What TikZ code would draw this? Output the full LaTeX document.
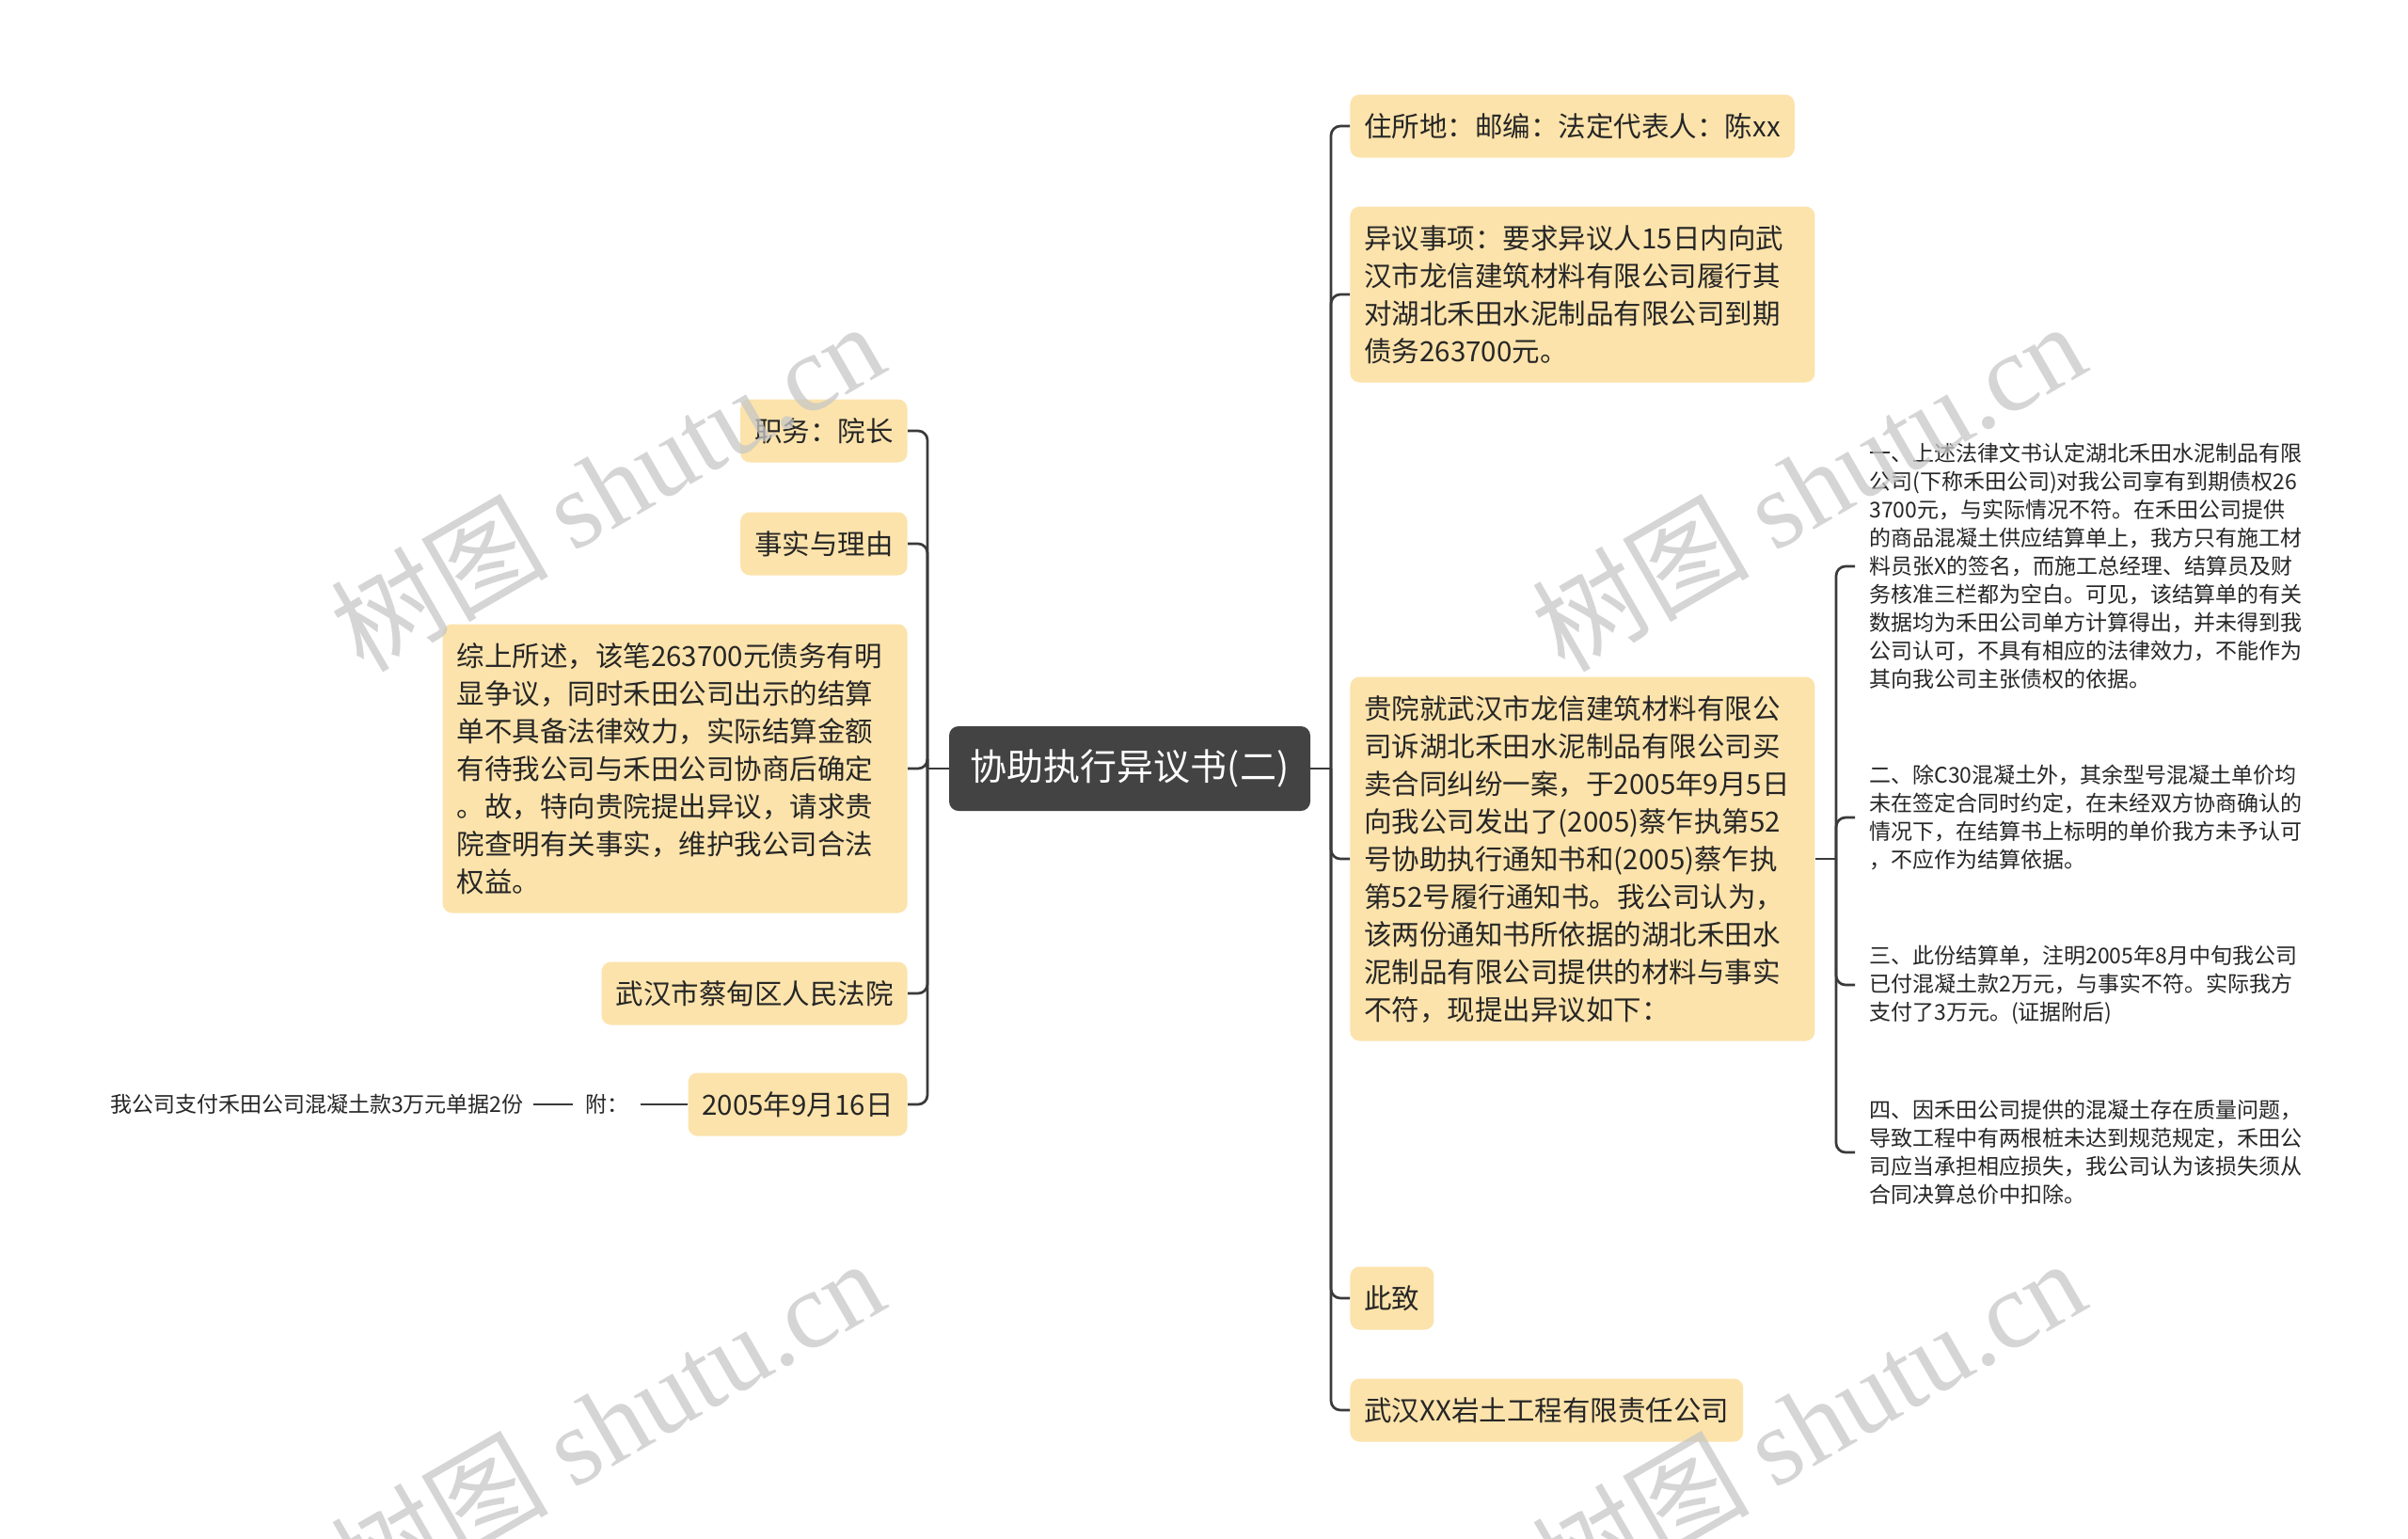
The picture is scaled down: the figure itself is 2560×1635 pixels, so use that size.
\documentclass[tikz,border=0pt]{standalone}
\usepackage{fontspec}
\setmainfont{Noto Sans CJK SC}
\newfontfamily\wmserif{Liberation Serif}
\definecolor{boxc}{HTML}{FCE3AB}
\definecolor{linec}{HTML}{3A3A3A}
\definecolor{centerc}{HTML}{434343}
\definecolor{txt}{HTML}{262626}
\newcommand\bst{\rule[-4.4pt]{0pt}{20pt}}
\tikzset{
  box/.style={fill=boxc, rounded corners=5pt, inner xsep=7.5pt, inner ysep=6.75pt,
    align=left, text=txt, font=\fontsize{14.75}{20}\selectfont},
  widebox/.style={box, text width=232pt},
  itemtext/.style={inner xsep=7.5pt, inner ysep=0pt, align=left, text=txt,
    font=\fontsize{11.5}{15}\selectfont, anchor=west},
  plaintext/.style={inner xsep=5pt, inner ysep=0pt, text=txt,
    font=\fontsize{11.5}{15}\selectfont},
  conn/.style={draw=linec, line width=1.35pt, rounded corners=5pt},
  wm/.style={text=black!22, opacity=0.75, rotate=30, inner sep=0pt,
    font=\fontsize{58}{58}\selectfont}
}
\begin{document}
\begin{tikzpicture}[x=0.5pt,y=-0.5pt]
\path[use as bounding box, fill=white] (0,0) rectangle (2560,1635);

% central
\node[fill=centerc, rounded corners=5pt, minimum width=192pt, minimum height=45pt,
  inner sep=0pt, text=white, font=\fontsize{19.5}{24}\selectfont] (C) at (1201,817) {协助执行异议书(二)};

% left children
\node[box, anchor=east] (L1) at (965,458) {\bst 职务：院长\bst};
\node[box, anchor=east] (L2) at (965,578) {\bst 事实与理由\bst};
\node[widebox, anchor=east] (L3) at (965,817) {\bst 综上所述，该笔263700元债务有明\\显争议，同时禾田公司出示的结算\\单不具备法律效力，实际结算金额\\有待我公司与禾田公司协商后确定\\。故，特向贵院提出异议，请求贵\\院查明有关事实，维护我公司合法\\权益。\bst};
\node[box, anchor=east] (L4) at (965,1056) {\bst 武汉市蔡甸区人民法院\bst};
\node[box, anchor=east] (L5) at (965,1174) {\bst 2005年9月16日\bst};
\node[plaintext, inner xsep=6.5pt] (F) at (645,1174) {附：};
\node[plaintext, anchor=east] (B) at (567,1174) {我公司支付禾田公司混凝土款3万元单据2份};

% right children
\node[box, anchor=west] (R1) at (1435,134) {\bst 住所地：邮编：法定代表人：陈xx\bst};
\node[widebox, anchor=west] (R2) at (1435,313) {\bst 异议事项：要求异议人15日内向武\\汉市龙信建筑材料有限公司履行其\\对湖北禾田水泥制品有限公司到期\\债务263700元。\bst};
\node[widebox, anchor=west] (R3) at (1435,913) {\bst 贵院就武汉市龙信建筑材料有限公\\司诉湖北禾田水泥制品有限公司买\\卖合同纠纷一案，于2005年9月5日\\向我公司发出了(2005)蔡乍执第52\\号协助执行通知书和(2005)蔡乍执\\第52号履行通知书。我公司认为，\\该两份通知书所依据的湖北禾田水\\泥制品有限公司提供的材料与事实\\不符，现提出异议如下：\bst};
\node[box, anchor=west] (R4) at (1435,1380) {\bst 此致\bst};
\node[box, anchor=west] (R5) at (1435,1499) {\bst 武汉XX岩土工程有限责任公司\bst};

% sub items
\node[itemtext] (I1) at (1972,602) {一、上述法律文书认定湖北禾田水泥制品有限\\公司(下称禾田公司)对我公司享有到期债权26\\3700元，与实际情况不符。在禾田公司提供\\的商品混凝土供应结算单上，我方只有施工材\\料员张X的签名，而施工总经理、结算员及财\\务核准三栏都为空白。可见，该结算单的有关\\数据均为禾田公司单方计算得出，并未得到我\\公司认可，不具有相应的法律效力，不能作为\\其向我公司主张债权的依据。};
\node[itemtext] (I2) at (1972,869) {二、除C30混凝土外，其余型号混凝土单价均\\未在签定合同时约定，在未经双方协商确认的\\情况下，在结算书上标明的单价我方未予认可\\，不应作为结算依据。};
\node[itemtext] (I3) at (1972,1047) {三、此份结算单，注明2005年8月中旬我公司\\已付混凝土款2万元，与事实不符。实际我方\\支付了3万元。(证据附后)};
\node[itemtext] (I4) at (1972,1225) {四、因禾田公司提供的混凝土存在质量问题，\\导致工程中有两根桩未达到规范规定，禾田公\\司应当承担相应损失，我公司认为该损失须从\\合同决算总价中扣除。};

% connectors
\coordinate (LT) at (986,817);
\coordinate (RT) at (1415,817);
\coordinate (ST) at (1952,913);
\draw[conn] (C.west) -- (LT);
\draw[conn] (C.east) -- (RT);
\foreach \n in {L1,L2,L3,L4,L5}{
  \draw[conn] (LT) -- (LT |- \n.east) -- (\n.east);
}
\foreach \n in {R1,R2,R3,R4,R5}{
  \draw[conn] (RT) -- (RT |- \n.west) -- (\n.west);
}
\draw[conn] (R3.east) -- (ST);
\foreach \n in {I1,I2,I3,I4}{
  \draw[conn] (ST) -- (ST |- \n.west) -- (\n.west);
}
\draw[conn] (L5.west) -- (F.east);
\draw[conn] (F.west) -- (B.east);

% watermarks
\node[wm] (W1) at (645,516) {树图 {\wmserif shutu.cn}};
\node[wm] (W2) at (1922,516) {树图 {\wmserif shutu.cn}};
\node[wm] (W3) at (645,1512) {树图 {\wmserif shutu.cn}};
\node[wm] (W4) at (1922,1512) {树图 {\wmserif shutu.cn}};
\end{tikzpicture}
\end{document}
